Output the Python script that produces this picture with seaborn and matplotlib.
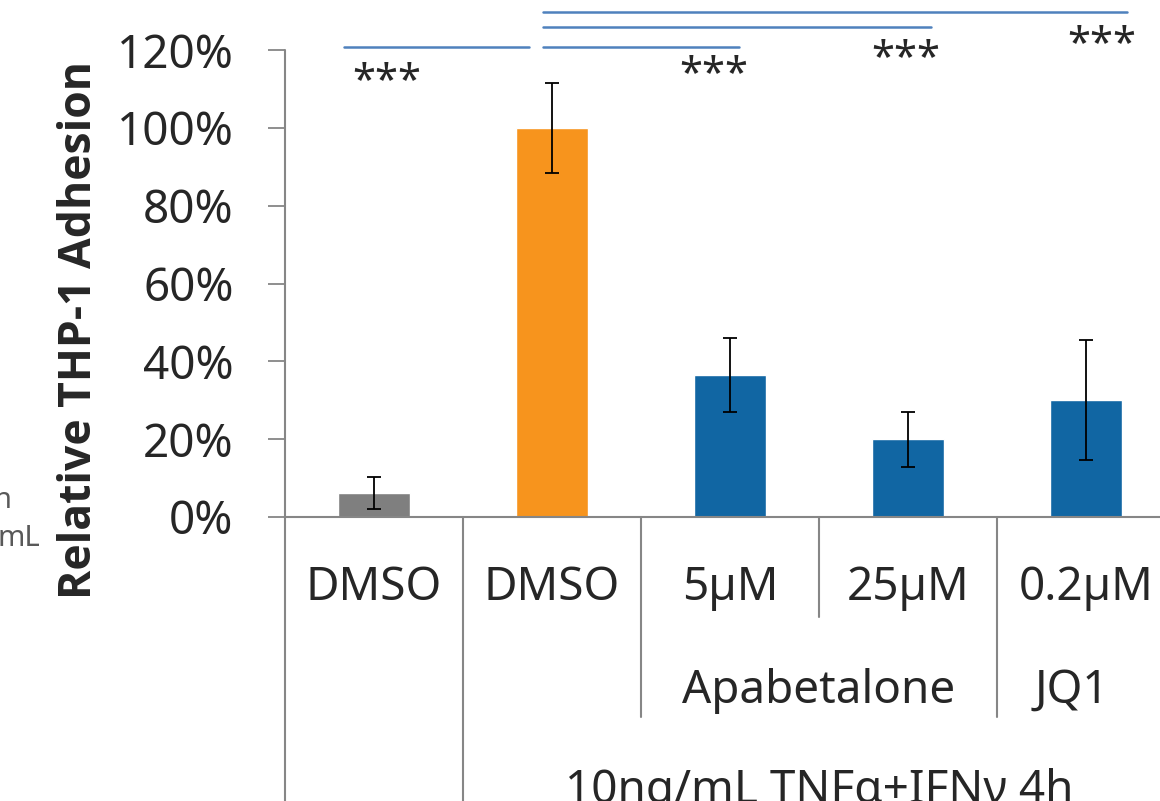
import matplotlib
matplotlib.use('Agg')
import matplotlib.pyplot as plt
import matplotlib.transforms as mtransforms
import seaborn as sns

# Data
groups = ['ctrl_dmso', 'tnf_dmso', 'apa_5', 'apa_25', 'jq1_02']
level1_labels = ['DMSO', 'DMSO', '5µM', '25µM', '0.2µM']
level2_labels = ['Apabetalone', 'JQ1']
level3_label = '10ng/mL TNFα+IFNγ 4h'
adhesion = [0.062, 1.0, 0.365, 0.20, 0.30]
adhesion_err = [0.041, 0.116, 0.096, 0.071, 0.154]
bar_colors = ['#7f7f7f', '#f7941d', '#1166a3', '#1166a3', '#1166a3']
y_ticks = [0, 0.2, 0.4, 0.6, 0.8, 1.0, 1.2]
y_tick_labels = ['0%', '20%', '40%', '60%', '80%', '100%', '120%']

# significance brackets: (x start, x end, line height), stars: (x, y)
sig_lines = [(-0.17, 0.87, 1.207), (0.95, 2.05, 1.207), (0.95, 3.13, 1.259), (0.95, 4.23, 1.298)]
sig_stars = [(0.07, 1.118), (1.91, 1.136), (2.99, 1.177), (4.09, 1.213)]

sns.set_style('white')
plt.rcParams['font.family'] = ['Noto Sans', 'DejaVu Sans']

W, H = 1160, 801
fig = plt.figure(figsize=(W / 100, H / 100), dpi=100)
ax = fig.add_axes([285 / W, (H - 517) / H, 890 / W, 467 / H])

sns.barplot(x=groups, y=adhesion, hue=groups, palette=bar_colors, width=0.4,
            saturation=1, legend=False, ax=ax)
ax.errorbar(range(len(groups)), adhesion, yerr=adhesion_err, fmt='none',
            ecolor='black', elinewidth=1.3, capsize=5, capthick=1.3)

ax.set_xlim(-0.5, 4.5)
ax.set_ylim(0, 1.2)
ax.set_yticks(y_ticks)
ax.set_yticklabels(y_tick_labels)
ax.set_xticks([])
ax.set_xlabel('')
ax.tick_params(axis='y', labelsize=33, length=12, width=1.3, color='#868686',
               pad=25, direction='out', left=True)
for s in ['top', 'right']:
    ax.spines[s].set_visible(False)
ax.spines['left'].set_visible(False)
ax.spines['bottom'].set_color('#868686')
ax.spines['bottom'].set_linewidth(1.5)

ax.set_ylabel('Relative THP-1 Adhesion', fontsize=32, fontweight='bold',
              family=['Open Sans', 'DejaVu Sans'])
ax.yaxis.set_label_coords(-183 / 890, 0.40)

# category axis lines drawn in (data x, figure pixel y)
trans = mtransforms.blended_transform_factory(ax.transData, fig.transFigure)
def fy(py):
    return (H - py) / H

sep_lines = [(-0.5, 50, 801), (0.5, 517, 801), (1.5, 517, 717), (2.5, 517, 617), (3.5, 517, 717)]
for x, y0, y1 in sep_lines:
    ax.plot([x, x], [fy(y0), fy(y1)], color='#868686', lw=1.5,
            transform=trans, clip_on=False)

for i, lab in enumerate(level1_labels):
    ax.text(i, fy(600), lab, transform=trans, ha='center', va='baseline', fontsize=33)
ax.text(2.5, fy(703), level2_labels[0], transform=trans, ha='center', va='baseline', fontsize=33)
ax.text(3.92, fy(703), level2_labels[1], transform=trans, ha='center', va='baseline', fontsize=33)
ax.text(2.5, fy(803), level3_label, transform=trans, ha='center', va='baseline', fontsize=33)

# significance lines
for x0, x1, y in sig_lines:
    ax.plot([x0, x1], [y, y], color='#4f81bd', lw=1.8, clip_on=False)
for x, y in sig_stars:
    ax.text(x, y, '***', ha='center', va='center', fontsize=30, clip_on=False)

# clipped annotation text at the left edge
fig.text(12 / W, fy(508), 'n', ha='right', va='baseline', fontsize=21, color='#595959')
fig.text(40 / W, fy(546), 'mL', ha='right', va='baseline', fontsize=21, color='#595959')

fig.savefig('out.png', dpi=100)
